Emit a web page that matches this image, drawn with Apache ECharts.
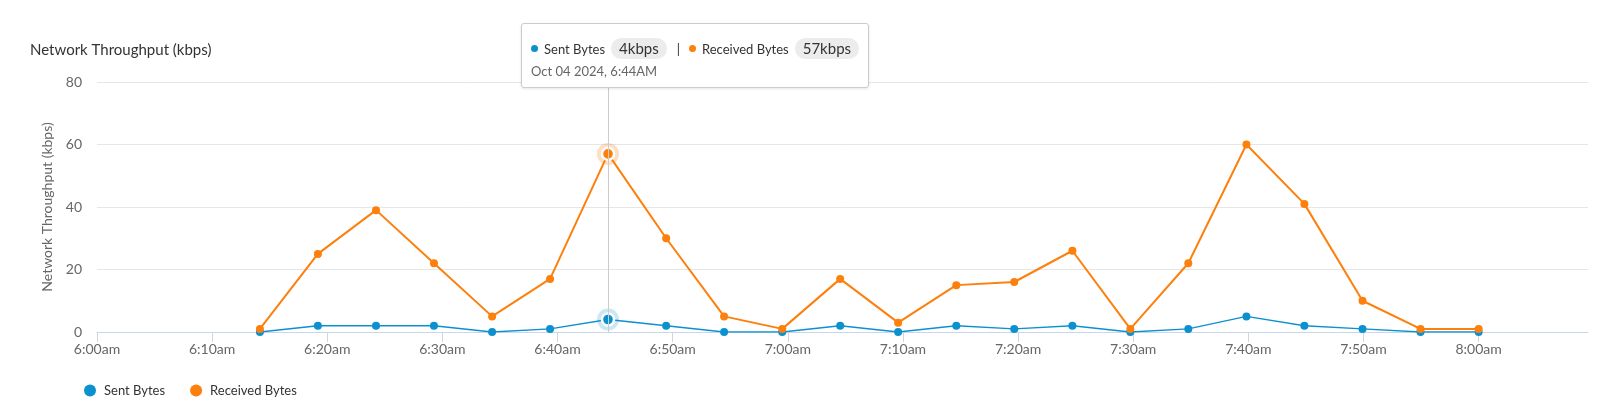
<!DOCTYPE html>
<html>
<head>
<meta charset="utf-8">
<title>Network Throughput</title>
<script src="https://cdn.jsdelivr.net/npm/echarts@6/dist/echarts.min.js"></script>
<style>
  html, body { margin: 0; padding: 0; background: #fff; }
  #chart { width: 1600px; height: 413px; }
</style>
</head>
<body>
<div id="chart"></div>
<script>
// sample times (Oct 04 2024)
const day = '2024-10-04';
const times = [
  '06:14:09', '06:19:11', '06:24:14', '06:29:16', '06:34:19', '06:39:21',
  '06:44:23', '06:49:26', '06:54:28', '06:59:31', '07:04:33', '07:09:35',
  '07:14:38', '07:19:40', '07:24:43', '07:29:45', '07:34:47', '07:39:50',
  '07:44:52', '07:49:55', '07:54:57', '08:00:00'
];
const sentBytes = [0, 2, 2, 2, 0, 1, 4, 2, 0, 0, 2, 0, 2, 1, 2, 0, 1, 5, 2, 1, 0, 0];
const receivedBytes = [1, 25, 39, 22, 5, 17, 57, 30, 5, 1, 17, 3, 15, 16, 26, 1, 22, 60, 41, 10, 1, 1];
const tickTimes = ['06:00', '06:10', '06:20', '06:30', '06:40', '06:50', '07:00',
  '07:10', '07:20', '07:30', '07:40', '07:50', '08:00'];
const yTicks = [0, 20, 40, 60, 80];
const hoverIndex = 6;

const SENT = '#0c91cf';
const RECV = '#fd7f0c';

const ts = t => Date.parse(day + 'T' + t);
const xMin = ts('06:00:00');
const xMax = ts('08:09:30');

function clock(v, upper) {
  const d = new Date(v);
  let h = d.getHours();
  const m = String(d.getMinutes()).padStart(2, '0');
  const ap = h < 12 ? 'am' : 'pm';
  h = h % 12 || 12;
  return h + ':' + m + (upper ? ap.toUpperCase() : ap);
}

function buildData(values, color) {
  return values.map((v, i) => {
    const item = { value: [ts(times[i]), v] };
    if (i === hoverIndex) {
      item.symbolSize = 11;
      item.itemStyle = { color: color, borderColor: '#fff', borderWidth: 2.5 };
    }
    return item;
  });
}

function halo(values, color) {
  return {
    symbol: 'circle',
    symbolSize: 22,
    silent: true,
    z: 1,
    label: { show: false },
    itemStyle: { color: color },
    data: [{ coord: [ts(times[hoverIndex]), values[hoverIndex]] }]
  };
}

const pill = 'display:inline-block;background:#ececec;border-radius:11px;padding:0 8px;' +
  'margin-left:6px;font-size:15px;color:#333;line-height:21px;vertical-align:middle;';
const dot = c => '<span style="display:inline-block;width:7px;height:7px;border-radius:4px;' +
  'background:' + c + ';margin-right:6px;vertical-align:middle;"></span>';

const chart = echarts.init(document.getElementById('chart'));
const option = {
  animation: false,
  textStyle: { fontFamily: 'Lato, "Noto Sans", sans-serif' },
  title: {
    text: 'Network Throughput (kbps)',
    left: 25,
    top: 38,
    textStyle: { fontSize: 15, fontWeight: 'normal', color: '#333' }
  },
  grid: { left: 97, right: 12, top: 82, bottom: 81 },
  legend: {
    left: 79,
    top: 379,
    icon: 'circle',
    itemWidth: 18,
    itemHeight: 12,
    itemGap: 25,
    textStyle: { fontSize: 13, color: '#333' },
    data: ['Sent Bytes', 'Received Bytes']
  },
  tooltip: {
    trigger: 'axis',
    alwaysShowContent: true,
    position: [521, 23],
    backgroundColor: '#fff',
    borderColor: '#cccccc',
    borderWidth: 1,
    padding: [11, 9, 7, 9],
    extraCssText: 'border-radius:3px;box-shadow:0 1px 3px rgba(0,0,0,0.10);',
    axisPointer: {
      type: 'line',
      snap: true,
      lineStyle: { color: '#cccccc', width: 1, type: 'solid' },
      label: { show: false }
    },
    formatter: params => {
      const s = params.find(p => p.seriesName === 'Sent Bytes');
      const r = params.find(p => p.seriesName === 'Received Bytes');
      const d = new Date(s.value[0]);
      const mon = d.toLocaleString('en-US', { month: 'short' });
      const dateTxt = mon + ' ' + String(d.getDate()).padStart(2, '0') + ' ' +
        d.getFullYear() + ', ' + clock(s.value[0], true);
      return '<div style="font-size:13px;color:#333;line-height:24px;height:24px;white-space:nowrap;">' +
        dot(SENT) + '<span style="vertical-align:middle;">Sent Bytes</span>' +
        '<span style="' + pill + '">' + s.value[1] + 'kbps</span>' +
        '<span style="vertical-align:middle;margin:0 9px 0 10px;">|</span>' +
        dot(RECV) + '<span style="vertical-align:middle;">Received Bytes</span>' +
        '<span style="' + pill + '">' + r.value[1] + 'kbps</span>' +
        '</div><div style="font-size:13px;color:#666;line-height:18px;margin-top:3px;">' + dateTxt + '</div>';
    }
  },
  xAxis: {
    type: 'value',
    min: xMin,
    max: xMax,
    interval: 600000,
    axisLine: { lineStyle: { color: '#ccd6eb' } },
    axisTick: {
      length: 10,
      lineStyle: { color: '#ccd6eb' },
      customValues: tickTimes.map(t => ts(t + ':00'))
    },
    axisLabel: {
      color: '#666',
      fontSize: 14,
      margin: 10,
      customValues: tickTimes.map(t => ts(t + ':00')),
      formatter: v => clock(v, false)
    },
    splitLine: { show: false }
  },
  yAxis: {
    type: 'value',
    min: 0,
    max: 80,
    interval: 20,
    name: 'Network Throughput (kbps)',
    nameLocation: 'middle',
    nameGap: 42,
    nameTextStyle: { fontSize: 14, color: '#666' },
    axisLine: { show: false },
    axisTick: { show: false },
    axisLabel: {
      color: '#666',
      fontSize: 14,
      margin: 15,
      customValues: yTicks
    },
    splitLine: { lineStyle: { color: '#e6e6e6' } }
  },
  series: [
    {
      name: 'Sent Bytes',
      type: 'line',
      color: SENT,
      symbol: 'circle',
      symbolSize: 8,
      showAllSymbol: true,
      lineStyle: { width: 1.3, color: SENT },
      itemStyle: { color: SENT },
      emphasis: { disabled: true },
      markPoint: halo(sentBytes, 'rgba(12,145,207,0.22)'),
      data: buildData(sentBytes, SENT)
    },
    {
      name: 'Received Bytes',
      type: 'line',
      color: RECV,
      symbol: 'circle',
      symbolSize: 8,
      showAllSymbol: true,
      lineStyle: { width: 2, color: RECV },
      itemStyle: { color: RECV },
      emphasis: { disabled: true },
      markPoint: halo(receivedBytes, 'rgba(253,127,12,0.25)'),
      data: buildData(receivedBytes, RECV)
    }
  ]
};
chart.setOption(option);
chart.dispatchAction({ type: 'showTip', seriesIndex: 1, dataIndex: hoverIndex });
</script>
</body>
</html>
